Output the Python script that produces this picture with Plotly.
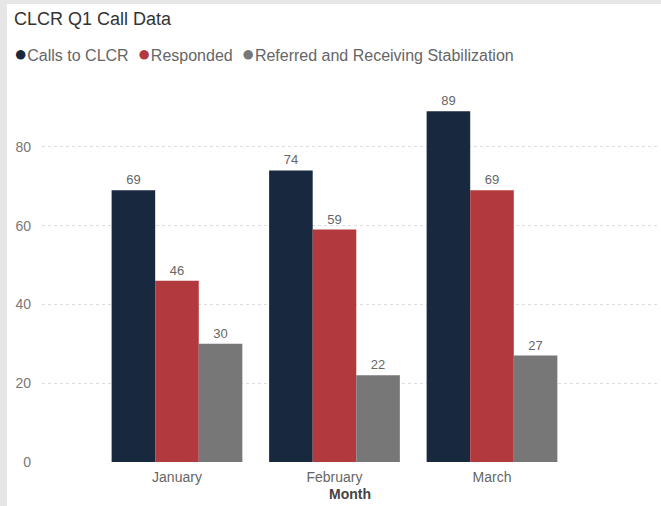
import plotly.graph_objects as go

MONTHS = ["January", "February", "March"]
CALLS = [69, 74, 89]
RESPONDED = [46, 59, 69]
REFERRED = [30, 22, 27]

SERIES = [
    ("Calls to CLCR", CALLS, "#18283f"),
    ("Responded", RESPONDED, "#b2393d"),
    ("Referred and Receiving Stabilization", REFERRED, "#777777"),
]

FONT = "Liberation Sans"
BORDER = "#e6e6e6"

fig = go.Figure()
for name, vals, color in SERIES:
    fig.add_trace(go.Bar(
        x=MONTHS, y=vals, name=name,
        marker=dict(color=color, line=dict(width=0)),
        text=vals, textposition="outside", cliponaxis=False,
        textfont=dict(family=FONT, size=13, color="#666666"),
        showlegend=False,
    ))

# legend drawn as one line of text with coloured dots, Power BI style
legend_html = "".join(
    f"<span style='color:{c};font-size:22px'>●</span>{n}&nbsp; " for n, _, c in SERIES
)
fig.add_annotation(
    text=legend_html.strip(), xref="paper", yref="paper",
    x=-0.048, y=1.038, xanchor="left", yanchor="middle",
    showarrow=False, font=dict(family=FONT, size=16, color="#666666"),
)

# grey frame strips at the left and top edge of the visual
fig.add_shape(type="rect", xref="paper", yref="paper",
              x0=-0.07, x1=-0.0568, y0=-0.12, y1=1.18,
              fillcolor=BORDER, line=dict(width=0), layer="below")
fig.add_shape(type="rect", xref="paper", yref="paper",
              x0=-0.07, x1=1.01, y0=1.1624, y1=1.18,
              fillcolor=BORDER, line=dict(width=0), layer="below")

fig.update_layout(
    width=661, height=506,
    margin=dict(l=42, r=3, t=68, b=44),
    paper_bgcolor="white", plot_bgcolor="white",
    bargap=0.17, bargroupgap=0,
    title=dict(text="CLCR Q1 Call Data", x=14 / 661, xanchor="left",
               y=1 - 19 / 506, yanchor="middle", yref="container",
               font=dict(family=FONT, size=18, color="#333333")),
    font=dict(family=FONT, color="#666666"),
)
fig.update_xaxes(
    range=[-0.857, 3.054], showgrid=False, zeroline=False, showline=False,
    ticks="", ticklabelstandoff=5, tickfont=dict(size=14, color="#666666"),
    title=dict(text="<b>Month</b>", standoff=5, font=dict(size=14, color="#444444")),
)
fig.update_yaxes(
    range=[0, 100], tickvals=[0, 20, 40, 60, 80], showgrid=True,
    gridcolor="#dddddd", griddash="dot", gridwidth=1,
    zeroline=False, showline=False, ticks="", ticklabelstandoff=10,
    tickfont=dict(size=14, color="#777777"),
)

fig.write_html("out.html", config={"displayModeBar": False},
               post_script="document.body.style.margin='0';")
